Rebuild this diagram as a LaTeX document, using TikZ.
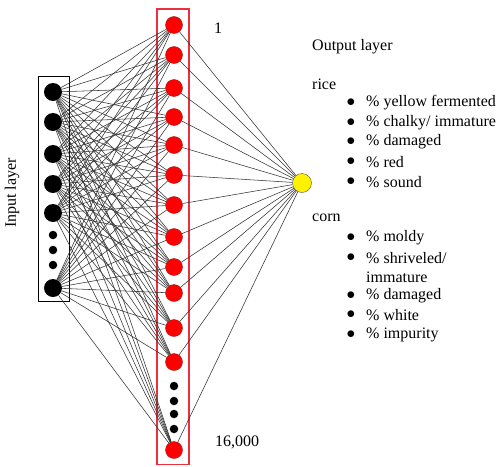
\documentclass[tikz,border=0pt]{standalone}
\usepackage{fontspec}
\setmainfont{Liberation Serif}
\usetikzlibrary{positioning}
\definecolor{boxred}{HTML}{E8303F}
\definecolor{rimred}{HTML}{A01818}
\tikzset{
  wire/.style={black!80,line width=0.55pt},
  inp/.style={circle,fill=black,minimum size=18pt,inner sep=0pt},
  smalldot/.style={circle,fill=black,minimum size=8.5pt,inner sep=0pt},
  hid/.style={circle,draw=rimred,fill=red,minimum size=17pt,inner sep=0pt},
  outp/.style={circle,draw=black!70,fill=yellow,minimum size=19pt,inner sep=0pt},
  txt/.style={font=\fontsize{16}{18}\selectfont,inner sep=0pt,anchor=west}
}
\begin{document}
\begin{tikzpicture}[x=1pt,y=-1pt]
\useasboundingbox (0,0) rectangle (500,466);
% layer frames
\draw[black,line width=0.8pt] (38,76) rectangle (69,301);
\draw[boxred,line width=1.2pt] (157,9) rectangle (189,464.5);
% input layer
\foreach \y [count=\i] in {92,122,154,184,213,288}
  \node[inp] (in\i) at (53,\y) {};
\foreach \y [count=\i] in {235,250,265}
  \node[smalldot] (indot\i) at (53,\y) {};
% hidden layer
\foreach \y [count=\j] in {25,55,88,117,145,175,205,237,267,293,328,362,450}
  \node[hid] (hid\j) at (174,\y) {};
\foreach \y [count=\j] in {386,401,414,429}
  \node[smalldot] (hiddot\j) at (174,\y) {};
% output neuron
\node[outp] (out) at (302,183) {};
% connections
\foreach \i in {1,...,6}
  \foreach \j in {1,...,13}
    \draw[wire] (in\i) -- (hid\j);
\foreach \j in {1,...,13}
  \draw[wire] (hid\j) -- (out);
% labels
\node[txt,anchor=center] (first) at (218,28) {1};
\node[txt,anchor=center] (last) at (237,442) {16,000};
\node[txt,anchor=center,rotate=90] (inlabel) at (12,193) {Input layer};
\node[txt] (outlabel) at (312,47) {Output layer};
\node[txt] (rice) at (312,84) {rice};
\foreach \t/\y [count=\k] in {yellow fermented/103,{chalky/ immature}/123,damaged/142,red/162,sound/182}{
  \node[txt,anchor=center] (rb\k) at (351,\y) {$\bullet$};
  \node[txt] (ri\k) at (366,\y) {\% \t};
}
\node[txt] (corn) at (312,218) {corn};
\foreach \t/\y [count=\k] in {moldy/238,{shriveled/}/258,damaged/296,white/315,impurity/335}{
  \node[txt,anchor=center] (cb\k) at (351,\y) {$\bullet$};
  \node[txt] (ci\k) at (366,\y) {\% \t};
}
\node[txt] (cont) at (366,277) {immature};
\end{tikzpicture}
\end{document}
